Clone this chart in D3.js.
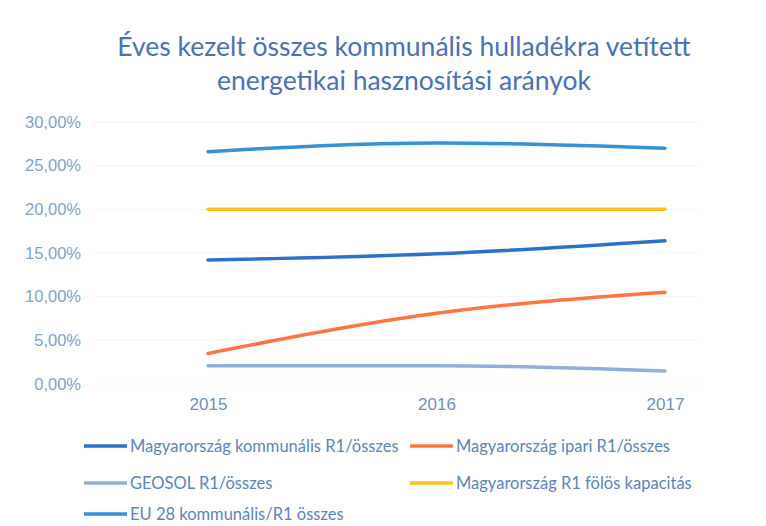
<!DOCTYPE html>
<html>
<head>
<meta charset="utf-8">
<script src="https://cdn.jsdelivr.net/npm/d3@7"></script>
<style>
  body { margin: 0; background: #fff; }
  svg { display: block; font-family: Lato, "Open Sans", sans-serif; }
</style>
</head>
<body>
<svg id="chart"></svg>
<script>
var years = ["2015", "2016", "2017"];
var yTicks = [0, 0.05, 0.10, 0.15, 0.20, 0.25, 0.30];

var seriesNames = [
  "Magyarország kommunális R1/összes",
  "Magyarország ipari R1/összes",
  "GEOSOL R1/összes",
  "Magyarország R1 fölös kapacitás",
  "EU 28 kommunális/R1 összes"
];
var huKommunalis = [0.142, 0.149, 0.164];
var huIpari = [0.035, 0.081, 0.105];
var geosol = [0.021, 0.021, 0.015];
var huFolos = [0.200, 0.200, 0.200];
var eu28 = [0.266, 0.276, 0.270];

var colors = ["#2a72c8", "#ff7440", "#8fb0d8", "#ffc21a", "#3591d8"];

(function() {
  var width = 766, height = 526;
  var svg = d3.select("#chart").attr("width", width).attr("height", height);

  var allSeries = [huKommunalis, huIpari, geosol, huFolos, eu28].map(function(v, i) {
    return { name: seriesNames[i], color: colors[i], values: v };
  });

  var x = d3.scalePoint().domain(years).range([208, 665]);
  var y = d3.scaleLinear().domain([0, 0.30]).range([384, 122]);

  // title
  svg.append("text")
    .attr("x", 404).attr("y", 56)
    .attr("text-anchor", "middle")
    .attr("fill", "#4a70b8")
    .style("font-size", "26.5px")
    .text("Éves kezelt összes kommunális hulladékra vetített");
  svg.append("text")
    .attr("x", 404).attr("y", 90)
    .attr("text-anchor", "middle")
    .attr("fill", "#4a70b8")
    .style("font-size", "26.5px")
    .text("energetikai hasznosítási arányok");

  // faint gridlines
  svg.append("g").selectAll("line")
    .data(yTicks).enter().append("line")
    .attr("x1", 95).attr("x2", 700)
    .attr("y1", function(d) { return y(d); })
    .attr("y2", function(d) { return y(d); })
    .attr("stroke", "#f3f5f9").attr("stroke-width", 1);

  var fmt = function(d) { return d3.format(".2f")(d * 100).replace(".", ",") + "%"; };

  var yAxis = svg.append("g")
    .attr("transform", "translate(81,0)")
    .call(d3.axisLeft(y).tickValues(yTicks).tickFormat(fmt).tickSize(0).tickPadding(0));
  yAxis.select(".domain").remove();
  yAxis.selectAll("text").attr("fill", "#7ea2cc").style("font-size", "16.5px");

  var xAxis = svg.append("g")
    .attr("transform", "translate(0,398)")
    .call(d3.axisBottom(x).tickSize(0).tickPadding(0));
  xAxis.select(".domain").remove();
  xAxis.selectAll("text").attr("fill", "#6f8fbf").style("font-size", "17px");

  var line = d3.line()
    .x(function(d, i) { return x(years[i]); })
    .y(function(d) { return y(d); })
    .curve(d3.curveMonotoneX);

  svg.append("g").selectAll("path")
    .data(allSeries).enter().append("path")
    .attr("fill", "none")
    .attr("stroke", function(d) { return d.color; })
    .attr("stroke-width", 3.5)
    .attr("stroke-linecap", "round")
    .attr("d", function(d) { return line(d.values); });

  // legend
  var legendPos = [[84, 446], [410, 446], [84, 483], [410, 483], [84, 514]];
  var leg = svg.append("g").selectAll("g")
    .data(allSeries).enter().append("g")
    .attr("transform", function(d, i) { return "translate(" + legendPos[i][0] + "," + legendPos[i][1] + ")"; });
  leg.append("line")
    .attr("x1", 0).attr("x2", 43)
    .attr("stroke", function(d) { return d.color; })
    .attr("stroke-width", 3.5);
  leg.append("text")
    .attr("x", 46).attr("dy", "0.35em")
    .attr("fill", "#5a84c0")
    .style("font-size", "16.5px")
    .text(function(d) { return d.name; });
})();
</script>
</body>
</html>
